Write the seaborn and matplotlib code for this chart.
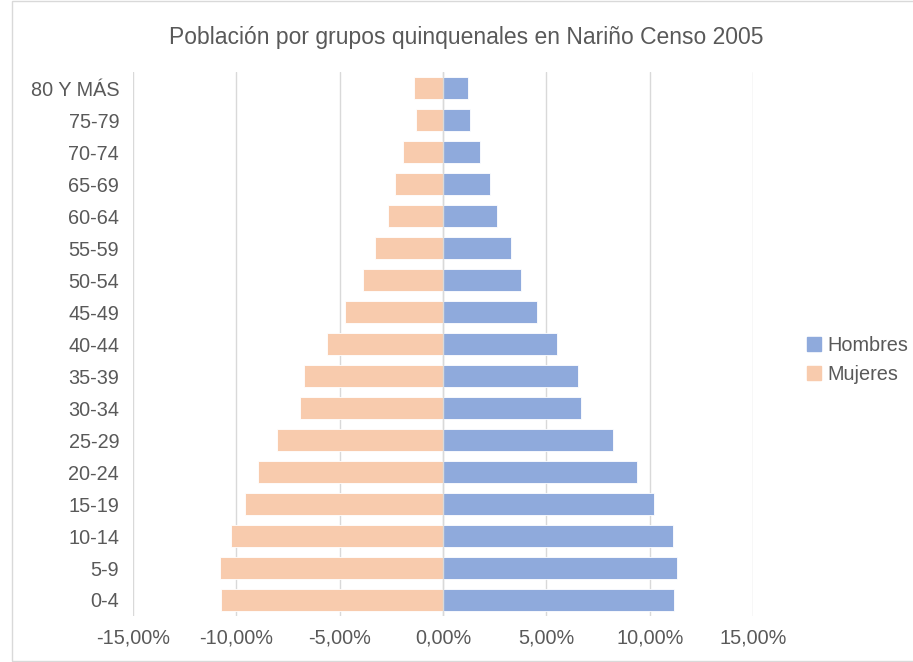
import pandas as pd
import matplotlib.pyplot as plt
import seaborn as sns
from matplotlib.ticker import FuncFormatter
from matplotlib.patches import Rectangle
from matplotlib.lines import Line2D

grupos = ["80 Y MÁS", "75-79", "70-74", "65-69", "60-64", "55-59", "50-54", "45-49",
          "40-44", "35-39", "30-34", "25-29", "20-24", "15-19", "10-14", "5-9", "0-4"]
hombres = [1.23, 1.31, 1.79, 2.27, 2.61, 3.31, 3.79, 4.57,
           5.52, 6.55, 6.69, 8.22, 9.39, 10.23, 11.13, 11.34, 11.18]
mujeres = [1.40, 1.32, 1.95, 2.30, 2.64, 3.27, 3.88, 4.72,
           5.61, 6.72, 6.93, 8.03, 8.95, 9.56, 10.26, 10.80, 10.74]
ticks = [-15, -10, -5, 0, 5, 10, 15]

df = pd.DataFrame({"Grupo": grupos, "Hombres": hombres,
                   "Mujeres": [-m for m in mujeres]})

sns.set_style("white")
plt.rcParams["font.family"] = ["Liberation Sans", "DejaVu Sans"]
txt = "#595959"
c_h = "#8FAADC"
c_m = "#F8CBAD"

fig = plt.figure(figsize=(9.13, 6.62), dpi=100)
ax = fig.add_axes([0.1457, 0.0695, 0.6791, 0.8215])

sns.barplot(data=df, y="Grupo", x="Hombres", order=grupos, color=c_h,
            orient="h", width=0.68, ax=ax, saturation=1, zorder=3,
            edgecolor="white", linewidth=0.6)
sns.barplot(data=df, y="Grupo", x="Mujeres", order=grupos, color=c_m,
            orient="h", width=0.68, ax=ax, saturation=1, zorder=3,
            edgecolor="white", linewidth=0.6)

ax.set_xlim(-15, 15)
ax.set_ylim(len(grupos) - 0.5, -0.5)
ax.set_xticks(ticks)
ax.xaxis.set_major_formatter(FuncFormatter(lambda v, p: f"{v:.2f}%".replace(".", ",")))
ax.grid(axis="x", color="#D9D9D9", linewidth=1, zorder=0)
ax.axvline(0, color="#D9D9D9", linewidth=1, zorder=4)
for s in ax.spines.values():
    s.set_visible(False)
ax.tick_params(axis="both", length=0, labelsize=14.3, colors=txt)
ax.tick_params(axis="x", pad=9)
ax.tick_params(axis="y", pad=10)
ax.set_xlabel("")
ax.set_ylabel("")

fig.text(0.511, 0.944, "Población por grupos quinquenales en Nariño Censo 2005",
         ha="center", va="center", fontsize=16.5, color=txt)

handles = [Line2D([], [], marker="s", linestyle="", markersize=9.5, color=c_h),
           Line2D([], [], marker="s", linestyle="", markersize=9.5, color=c_m)]
fig.legend(handles, ["Hombres", "Mujeres"], loc="center left",
           bbox_to_anchor=(0.881, 0.456), frameon=False, fontsize=14.3,
           labelcolor=txt, handletextpad=0.15, labelspacing=0.5, handlelength=1.0,
           borderaxespad=0, borderpad=0)

fig.patches.append(Rectangle((0.013, 0.002), 1.0, 0.997, transform=fig.transFigure,
                             fill=False, edgecolor="#D9D9D9", linewidth=1))

plt.savefig("out.png", dpi=100)
plt.close()
